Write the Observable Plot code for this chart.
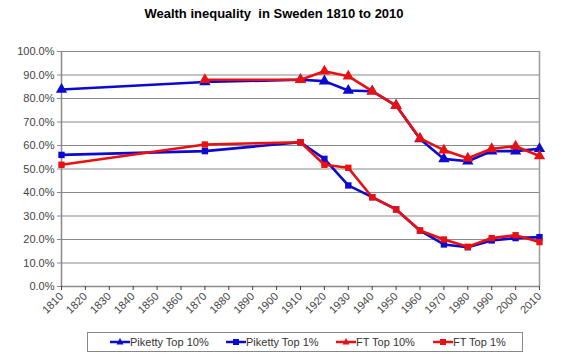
<!DOCTYPE html>
<html><head><meta charset="utf-8">
<script src="https://cdn.jsdelivr.net/npm/d3@7"></script>
<script src="https://cdn.jsdelivr.net/npm/@observablehq/plot@0.6"></script>
<style>
body{margin:0;background:#fff;font-family:"Liberation Sans",Arial,sans-serif;}
#wrap{position:relative;width:567px;height:355px;overflow:hidden;}
#title{position:absolute;left:4px;width:540px;top:6px;text-align:center;font-weight:bold;font-size:13px;color:#000;white-space:pre;}
#chart{position:absolute;left:0;top:30px;}
#legend{position:absolute;left:87px;top:332px;width:436px;height:20px;border:1px solid #888;box-sizing:border-box;font-size:11px;color:#333;}
.item{position:absolute;top:2px;display:flex;align-items:center;height:14px;white-space:nowrap;}
</style></head>
<body><div id="wrap"><div id="title">Wealth inequality  in Sweden 1810 to 2010</div><div id="chart"></div><div id="legend"></div></div>
<script>
const yearsPik10 = [1810,1870,1910,1920,1930,1940,1950,1960,1970,1980,1990,2000,2010];
const pikettyTop10 = [83.8,87.0,88.0,87.4,83.4,83.1,77.0,62.8,54.3,53.3,57.6,57.6,58.6];
const yearsPik1 = [1810,1870,1910,1920,1930,1940,1950,1960,1970,1980,1990,2000,2010];
const pikettyTop1 = [56.0,57.6,61.4,54.3,43.0,38.0,32.8,23.8,17.9,16.7,19.6,20.6,21.0];
const yearsFT10 = [1870,1910,1920,1930,1940,1950,1960,1970,1980,1990,2000,2010];
const ftTop10 = [88.0,88.0,91.6,89.5,83.1,77.0,63.0,58.0,54.6,58.6,59.7,55.5];
const yearsFT1 = [1810,1870,1910,1920,1930,1940,1950,1960,1970,1980,1990,2000,2010];
const ftTop1 = [51.8,60.4,61.4,51.8,50.5,38.0,32.8,23.8,20.0,16.9,20.6,21.8,18.9];
const xTicks = d3.range(1810, 2011, 10);
const yTicks = d3.range(0, 101, 10);
const seriesNames = ["Piketty Top 10%","Piketty Top 1%","FT Top 10%","FT Top 1%"];

const BLUE = "#0a0ad0", RED = "#e81010";
const series = [
  {name: seriesNames[0], years: yearsPik10, vals: pikettyTop10, color: BLUE, symbol: "triangle"},
  {name: seriesNames[1], years: yearsPik1, vals: pikettyTop1, color: BLUE, symbol: "square"},
  {name: seriesNames[2], years: yearsFT10, vals: ftTop10, color: RED, symbol: "triangle"},
  {name: seriesNames[3], years: yearsFT1, vals: ftTop1, color: RED, symbol: "square"}
];
const rows = series.flatMap(s => s.years.map((y, i) => ({series: s.name, year: y, value: s.vals[i]})));

const marks = [
  Plot.ruleY(yTicks.filter(d => d > 0), {stroke: "#8a8a8a", strokeWidth: 1.2}),
  Plot.ruleX([2010], {stroke: "#9a9a9a", strokeWidth: 1.5}),
  Plot.ruleX([1810], {stroke: "#8a8a8a", strokeWidth: 1.5}),
  Plot.ruleY([0], {stroke: "#8a8a8a", strokeWidth: 1.5}),
  Plot.axisY({ticks: yTicks, tickSize: 4, tickPadding: 3, stroke: "#8a8a8a", tickFormat: d => d.toFixed(1) + "%", label: null, fontSize: 11, color: "#444"}),
  Plot.axisX({ticks: xTicks, tickSize: 4, tickPadding: 4, tickRotate: -45, tickFormat: d => String(d), label: null, fontSize: 11, color: "#444"})
];
for (const s of series) {
  const data = rows.filter(r => r.series === s.name);
  marks.push(Plot.line(data, {x: "year", y: "value", stroke: s.color, strokeWidth: 2.6}));
  marks.push(Plot.dot(data, {x: "year", y: "value", fill: s.color, symbol: s.symbol, r: s.symbol === "square" ? 3.6 : 4.2}));
}

const chart = Plot.plot({
  width: 567, height: 300,
  marginLeft: 61, marginRight: 28, marginTop: 21, marginBottom: 44,
  x: {domain: [1810, 2010]},
  y: {domain: [0, 100]},
  style: {fontFamily: "Liberation Sans, Arial, sans-serif", fontSize: "11px", background: "transparent"},
  marks
});
document.getElementById("chart").appendChild(chart);

// legend
const legendX = [22, 138, 248, 345];
const leg = document.getElementById("legend");
series.forEach((s, i) => {
  const it = document.createElement("div");
  it.className = "item";
  it.style.left = legendX[i] + "px";
  const sym = s.symbol === "square"
    ? `<rect x="7" y="4" width="6" height="6" fill="${s.color}"/>`
    : `<path d="M10,3 L13.5,9.5 L6.5,9.5 Z" fill="${s.color}"/>`;
  it.innerHTML = `<svg width="20" height="14"><line x1="0" x2="20" y1="7" y2="7" stroke="${s.color}" stroke-width="2.5"/>${sym}</svg><span>${s.name}</span>`;
  leg.appendChild(it);
});
</script></body></html>
